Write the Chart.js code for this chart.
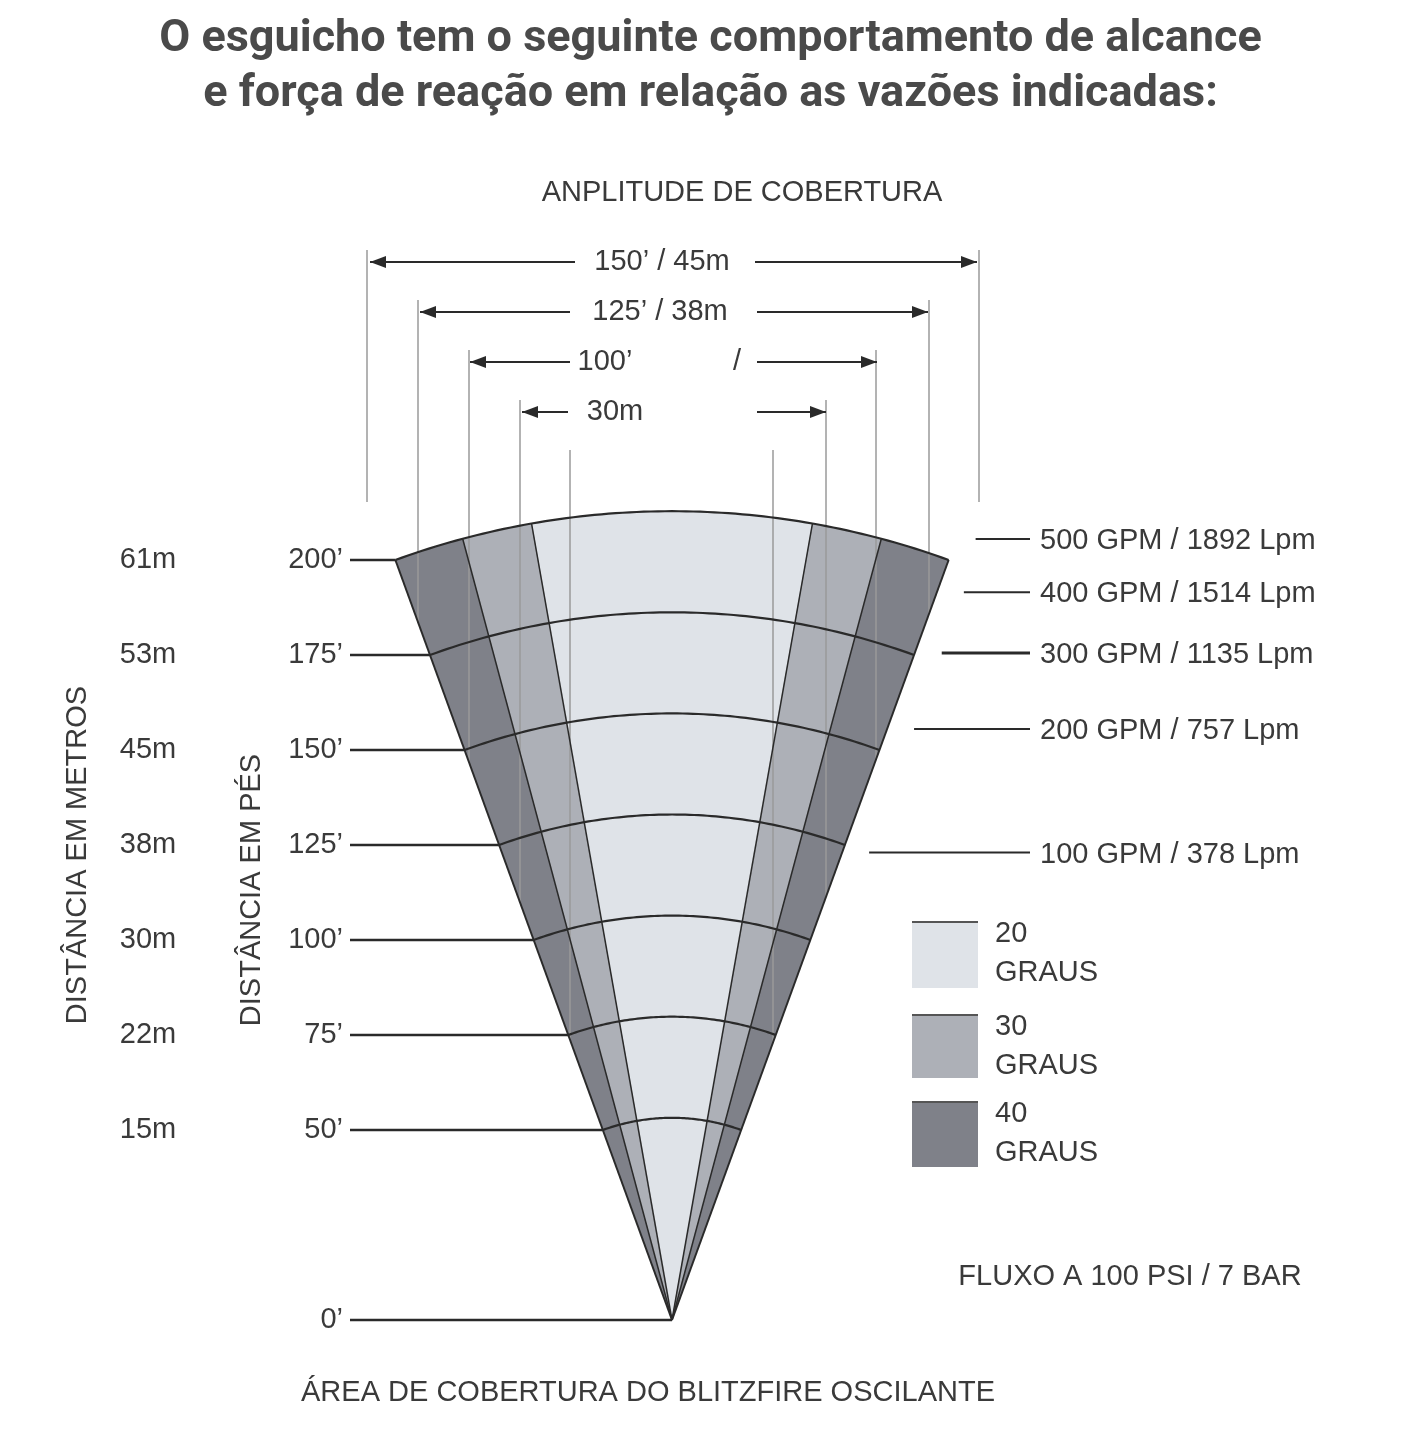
<!DOCTYPE html>
<html>
<head>
<meta charset="utf-8">
<script src="https://cdn.jsdelivr.net/npm/chart.js@4.4.1/dist/chart.umd.min.js"></script>
<style>
  html, body { margin: 0; padding: 0; background: #fff; }
  #wrap { position: relative; width: 1421px; height: 1456px; }
  h1 {
    position: absolute; left: 0; top: 8px; width: 1421px; margin: 0;
    text-align: center; font-family: 'Liberation Sans Narrow', 'Roboto', sans-serif;
    font-weight: bold; font-size: 45px; line-height: 55px; color: #4a4a4a;
  }
  canvas { position: absolute; left: 0; top: 0; }
</style>
</head>
<body>
<div id="wrap">
  <canvas id="fan" width="1421" height="1456"></canvas>
  <h1>O esguicho tem o seguinte comportamento de alcance<br>e força de reação em relação as vazões indicadas:</h1>
</div>
<script>
// distances (feet) with matching metre labels
const levelsFt = [0, 50, 75, 100, 125, 150, 175, 200];
const levelsM = ['', '15m', '22m', '30m', '38m', '45m', '53m', '61m'];
// coverage angles (degrees, full width) and their fill colours
const angles = [40, 30, 20];
const angleColors = ['#7f8189', '#adb0b7', '#dfe3e8'];
const legendLabels = ['20', '30', '40'];
// flow rates and the reach (ft) their leader line points to
const flowLabels = ['500 GPM / 1892 Lpm', '400 GPM / 1514 Lpm', '300 GPM / 1135 Lpm', '200 GPM / 757 Lpm', '100 GPM / 378 Lpm'];
const flowReach = [205.5, 191.5, 175.5, 155.5, 123];
// coverage width dimension rows
const widthLabels = ['150\u2019 / 45m', '125\u2019 / 38m', '100\u2019', '30m'];

const K = 3.8;           // px per foot
const AX = 672, AY = 1320; // apex pixel
const font = "'Liberation Sans', 'DejaVu Sans', sans-serif";

const fanPlugin = {
    id: 'fan',
    afterDraw(chart) {
        const ctx = chart.ctx;
        const sx = chart.scales.x, sy = chart.scales.y;
        const P = (xf, yf) => [sx.getPixelForValue(xf), sy.getPixelForValue(yf)];
        const polar = (r, deg) => P(r * Math.sin(deg * Math.PI / 180), r * Math.cos(deg * Math.PI / 180));
        const half = angles[0] / 2;
        const cosH = Math.cos(half * Math.PI / 180);
        const topR = levelsFt[levelsFt.length - 1] / cosH;

        // sectors
        angles.forEach((a, i) => {
            ctx.beginPath();
            ctx.moveTo(...P(0, 0));
            for (let d = -a / 2; d <= a / 2 + 0.001; d += 0.5) ctx.lineTo(...polar(topR, d));
            ctx.closePath();
            ctx.fillStyle = angleColors[i];
            ctx.fill();
        });

        // extension lines of the width dimensions
        const ext = [[367, 250], [418, 300], [469, 350], [520, 400], [570, 450],
                     [773, 450], [826, 400], [876, 350], [929, 300], [979, 250]];
        ctx.strokeStyle = '#9a9a9a';
        ctx.lineWidth = 1.5;
        ext.forEach(([x, y0]) => {
            const dx = Math.abs(x - AX);
            let y1 = AY - dx / Math.tan(half * Math.PI / 180);
            if (x === 367 || x === 979) y1 = 502;
            ctx.beginPath(); ctx.moveTo(x, y0); ctx.lineTo(x, y1); ctx.stroke();
        });

        // radial boundaries
        ctx.strokeStyle = '#2a2a2a';
        angles.forEach((a, i) => {
            ctx.lineWidth = i === 0 ? 2 : 1.5;
            [-a / 2, a / 2].forEach(d => {
                ctx.beginPath(); ctx.moveTo(...P(0, 0)); ctx.lineTo(...polar(topR, d)); ctx.stroke();
            });
        });

        // arcs at each 25 ft level
        ctx.lineWidth = 2.2;
        ctx.strokeStyle = '#2a2a2a';
        for (let L = 50; L <= 200; L += 25) {
            const r = L / cosH;
            ctx.beginPath();
            for (let d = -half; d <= half + 0.001; d += 0.5) {
                const p = polar(r, d);
                if (d === -half) ctx.moveTo(...p); else ctx.lineTo(...p);
            }
            ctx.stroke();
        }

        // left tick lines and labels
        ctx.font = '29px ' + font;
        ctx.fillStyle = '#3a3a3a';
        ctx.textBaseline = 'middle';
        levelsFt.forEach((L, i) => {
            const [, y] = P(0, L);
            const [xe] = P(-L * Math.tan(half * Math.PI / 180), L);
            ctx.strokeStyle = '#2a2a2a';
            ctx.lineWidth = 2.5;
            ctx.beginPath(); ctx.moveTo(350, y); ctx.lineTo(xe, y); ctx.stroke();
            ctx.textAlign = 'right';
            ctx.fillText(L + '\u2019', 343, y);
            ctx.textAlign = 'center';
            if (levelsM[i]) ctx.fillText(levelsM[i], 148, y);
        });

        // rotated axis titles
        ctx.font = '29px ' + font;
        ctx.textAlign = 'center';
        [['DIST\u00c2NCIA EM METROS', 78, 855], ['DIST\u00c2NCIA EM P\u00c9S', 252, 890]].forEach(([t, x, y]) => {
            ctx.save(); ctx.translate(x, y); ctx.rotate(-Math.PI / 2);
            ctx.fillText(t, 0, 0); ctx.restore();
        });

        // flow leader lines and labels
        ctx.textAlign = 'left';
        flowLabels.forEach((t, i) => {
            const L = flowReach[i];
            const [, y] = P(0, L);
            const [xe] = P(Math.min(L, 200) * Math.tan(half * Math.PI / 180), L);
            ctx.strokeStyle = '#2a2a2a';
            ctx.lineWidth = i === 2 ? 3 : 2;
            ctx.beginPath(); ctx.moveTo(xe + 27, y); ctx.lineTo(1030, y); ctx.stroke();
            ctx.fillText(t, 1040, y + 2);
        });

        // width dimension rows
        const arrow = (x, y, dir) => {
            ctx.beginPath(); ctx.moveTo(x, y);
            ctx.lineTo(x - dir * 16, y - 6); ctx.lineTo(x - dir * 16, y + 6); ctx.closePath(); ctx.fill();
        };
        const rows = [
            [262, 370, 575, 755, 977, 662],
            [312, 420, 570, 757, 928, 660],
            [362, 470, 570, 757, 877, 605],
            [412, 522, 568, 757, 826, 615]
        ];
        ctx.strokeStyle = '#2a2a2a';
        ctx.lineWidth = 2;
        rows.forEach(([y, x0, g0, g1, x1, tx], i) => {
            ctx.beginPath(); ctx.moveTo(x0, y); ctx.lineTo(g0, y); ctx.moveTo(g1, y); ctx.lineTo(x1, y); ctx.stroke();
            ctx.fillStyle = '#2a2a2a';
            arrow(x0, y, -1); arrow(x1, y, 1);
            ctx.fillStyle = '#3a3a3a';
            ctx.textAlign = 'center';
            ctx.fillText(widthLabels[i], tx, y);
        });
        ctx.fillText('/', 737, 362);
        ctx.fillText('ANPLITUDE DE COBERTURA', 742, 193);

        // legend
        const boxes = [[922, 988], [1015, 1078], [1102, 1167]];
        const order = [2, 1, 0];
        boxes.forEach(([y0, y1], i) => {
            ctx.fillStyle = angleColors[order[i]];
            ctx.fillRect(912, y0, 66, y1 - y0);
            ctx.strokeStyle = '#555';
            ctx.lineWidth = 2;
            ctx.beginPath(); ctx.moveTo(912, y0); ctx.lineTo(978, y0); ctx.stroke();
            ctx.fillStyle = '#3a3a3a';
            ctx.textAlign = 'left';
            ctx.fillText(legendLabels[i], 995, y0 + 12);
            ctx.fillText('GRAUS', 995, y0 + 51);
        });

        ctx.textAlign = 'center';
        ctx.fillText('FLUXO A 100 PSI / 7 BAR', 1130, 1277);
        ctx.fillText('\u00c1REA DE COBERTURA DO BLITZFIRE OSCILANTE', 648, 1393);
    }
};

new Chart(document.getElementById('fan').getContext('2d'), {
    type: 'scatter',
    data: { datasets: [{ data: [], showLine: false }] },
    options: {
        responsive: false,
        animation: false,
        layout: { padding: 0 },
        plugins: { legend: { display: false }, tooltip: { enabled: false } },
        scales: {
            x: { display: false, min: -AX / K, max: (1421 - AX) / K },
            y: { display: false, min: -(1456 - AY) / K, max: AY / K }
        }
    },
    plugins: [fanPlugin]
});
</script>
</body>
</html>
